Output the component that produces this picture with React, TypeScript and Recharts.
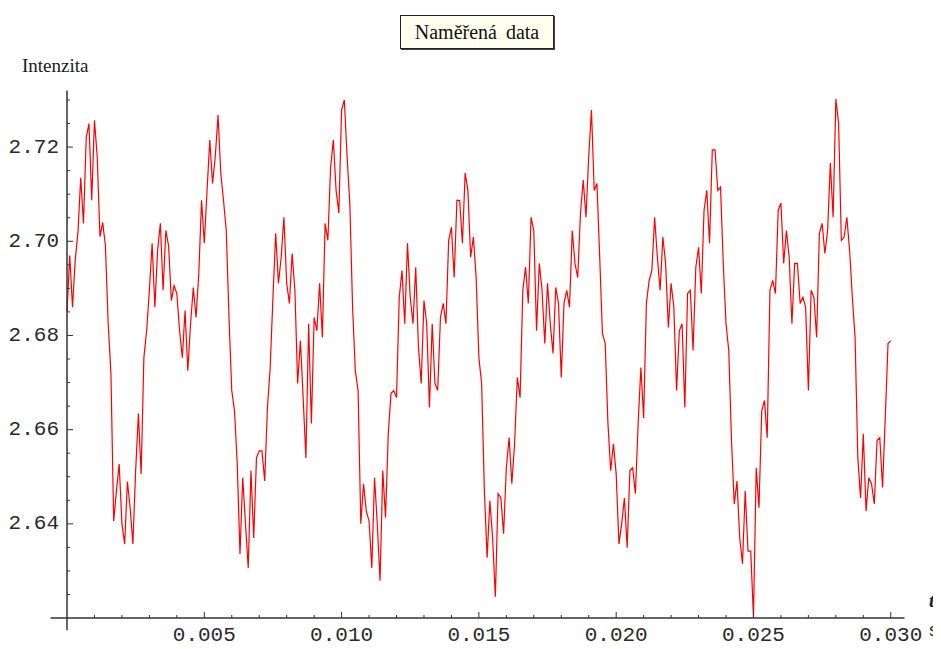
import { LineChart, Line, XAxis, YAxis, ReferenceLine } from 'recharts'

// measured intensity, one reading every 0.1 ms starting at t = 0
const intensity = [
  2.685, 2.697, 2.686, 2.696, 2.702, 2.7135, 2.7038, 2.722, 2.725, 2.7087,
  2.7257, 2.718, 2.701, 2.704, 2.699, 2.6825, 2.672, 2.6406, 2.647, 2.6527,
  2.64, 2.6357, 2.649, 2.6434, 2.6357, 2.6513, 2.6634, 2.6506, 2.6753, 2.681,
  2.6896, 2.6996, 2.686, 2.6981, 2.7038, 2.6896, 2.7023, 2.699, 2.6874, 2.6906,
  2.6889, 2.681, 2.6753, 2.6853, 2.6725, 2.6825, 2.6902, 2.6838, 2.6932, 2.7087,
  2.6996, 2.7108, 2.7215, 2.7123, 2.718, 2.7268, 2.7145, 2.7087, 2.7023, 2.6838,
  2.6683, 2.664, 2.6527, 2.6336, 2.6498, 2.64, 2.6306, 2.6513, 2.637, 2.654,
  2.6555, 2.6555, 2.6491, 2.6647, 2.6732, 2.6881, 2.7017, 2.6911, 2.6966, 2.7051,
  2.6911, 2.6868, 2.6974, 2.6896, 2.6698, 2.6789, 2.6668, 2.654, 2.6825, 2.6613,
  2.6838, 2.681, 2.6911, 2.6796, 2.7038, 2.7002, 2.7157, 2.7215, 2.7108, 2.706,
  2.7279, 2.73, 2.718, 2.7081, 2.686, 2.6725, 2.6683, 2.64, 2.6485, 2.6427,
  2.6406, 2.6306, 2.6498, 2.64, 2.6279, 2.6513, 2.6413, 2.6591, 2.6677, 2.6683,
  2.6668, 2.6881, 2.6938, 2.6825, 2.6996, 2.6881, 2.6825, 2.6945, 2.6774, 2.6698,
  2.6874, 2.6825, 2.6647, 2.6825, 2.6698, 2.6683, 2.6838, 2.6868, 2.6825, 2.7002,
  2.703, 2.6923, 2.7087, 2.7087, 2.6996, 2.7145, 2.7108, 2.6966, 2.7009, 2.6923,
  2.6753, 2.6698, 2.647, 2.6328, 2.6449, 2.637, 2.6245, 2.6464, 2.6455, 2.6379,
  2.6519, 2.6583, 2.6485, 2.657, 2.6711, 2.6668, 2.6896, 2.6945, 2.6868, 2.7051,
  2.7023, 2.681, 2.6953, 2.6896, 2.6783, 2.6911, 2.6825, 2.6762, 2.6902, 2.6868,
  2.6711, 2.6868, 2.6896, 2.686, 2.7023, 2.6953, 2.6923, 2.706, 2.713, 2.7051,
  2.718, 2.7279, 2.7108, 2.7123, 2.6966, 2.6804, 2.6783, 2.6613, 2.6513, 2.657,
  2.6506, 2.6357, 2.64, 2.6455, 2.6349, 2.6513, 2.6519, 2.6464, 2.6613, 2.6732,
  2.6625, 2.6868, 2.6917, 2.6938, 2.7051, 2.6966, 2.6896, 2.7009, 2.6953, 2.6817,
  2.6911, 2.686, 2.6683, 2.681, 2.6825, 2.6647, 2.6889, 2.6896, 2.6768, 2.6945,
  2.6987, 2.6889, 2.7066, 2.7108, 2.6996, 2.7194, 2.7194, 2.7108, 2.7115, 2.6953,
  2.6825, 2.6768, 2.6577, 2.6442, 2.6491, 2.637, 2.6315, 2.647, 2.6342, 2.6342,
  2.6202, 2.6519, 2.6434, 2.664, 2.6662, 2.6583, 2.6896, 2.6917, 2.6889, 2.7066,
  2.7081, 2.6953, 2.7023, 2.6966, 2.6825, 2.6953, 2.6953, 2.6868, 2.6881, 2.686,
  2.6683, 2.6896, 2.6881, 2.6796, 2.7017, 2.7038, 2.6974, 2.7023, 2.7166, 2.7051,
  2.7302, 2.7251, 2.7002, 2.7009, 2.7051, 2.6981, 2.6881, 2.6796, 2.654, 2.6455,
  2.6591, 2.6427, 2.6498, 2.6485, 2.6442, 2.6577, 2.6583, 2.6477, 2.6625, 2.6783,
  2.6789,
]
const sampleStep = 0.0001

const xTicks = [
  0.001, 0.002, 0.003, 0.004, 0.005, 0.006, 0.007, 0.008, 0.009, 0.01,
  0.011, 0.012, 0.013, 0.014, 0.015, 0.016, 0.017, 0.018, 0.019, 0.02,
  0.021, 0.022, 0.023, 0.024, 0.025, 0.026, 0.027, 0.028, 0.029, 0.03,
]
const xLabelled = [0.005, 0.01, 0.015, 0.02, 0.025, 0.03]

const yTicks = [
  2.625, 2.63, 2.635, 2.64, 2.645, 2.65, 2.655, 2.66, 2.665, 2.67, 2.675,
  2.68, 2.685, 2.69, 2.695, 2.7, 2.705, 2.71, 2.715, 2.72, 2.725, 2.73,
]
const yLabelled = [2.64, 2.66, 2.68, 2.7, 2.72]

const data = intensity.map((v, i) => ({ t: +(i * sampleStep).toFixed(4), v }))

const axisColor = '#333'
const tickFont = { fontFamily: '"Liberation Mono", monospace', fontSize: 21, fill: '#2a2a2a' }

const isIn = (list: number[], v: number) => list.some((m) => Math.abs(m - v) < 1e-9)

function XTick(props: any) {
  const { x, y, payload } = props
  const major = isIn(xLabelled, payload.value)
  return (
    <g>
      <line x1={x} x2={x} y1={y} y2={y - (major ? 6 : 3)} stroke={axisColor} strokeWidth={1} />
      {major && (
        <text x={x} y={y + 17} textAnchor="middle" dominantBaseline="central" {...tickFont}>
          {payload.value.toFixed(3)}
        </text>
      )}
    </g>
  )
}

function YTick(props: any) {
  const { x, y, payload } = props
  const major = isIn(yLabelled, payload.value)
  return (
    <g>
      <line x1={x} x2={x + (major ? 6 : 3)} y1={y} y2={y} stroke={axisColor} strokeWidth={1} />
      {major && (
        <text x={x - 8} y={y} textAnchor="end" dominantBaseline="central" {...tickFont}>
          {payload.value.toFixed(2)}
        </text>
      )}
    </g>
  )
}

export default function App() {
  // chart is a bit taller than the viewport room so the tick labels are not clipped;
  // the negative margin keeps the page from scrolling
  return (
    <div style={{ position: 'relative', width: 925, height: 641, marginBottom: -8 }}>
      <LineChart
        width={925}
        height={641}
        data={data}
        margin={{ top: 82.6, right: 28.5, bottom: 0, left: 0 }}
      >
        <XAxis
          dataKey="t"
          type="number"
          domain={[0, 0.0305]}
          ticks={xTicks}
          interval={0}
          height={31}
          tickSize={0}
          tickMargin={0}
          tickLine={false}
          tick={<XTick />}
          axisLine={{ stroke: axisColor, strokeWidth: 1.5 }}
        />
        <YAxis
          type="number"
          domain={[2.62, 2.732]}
          ticks={yTicks}
          interval={0}
          width={59}
          tickSize={0}
          tickMargin={0}
          tickLine={false}
          tick={<YTick />}
          axisLine={{ stroke: axisColor, strokeWidth: 1.5 }}
          allowDataOverflow
        />
        <ReferenceLine
          segment={[{ x: -0.0006, y: 2.62 }, { x: 0, y: 2.62 }]}
          stroke={axisColor}
          strokeWidth={1.5}
          ifOverflow="visible"
        />
        <ReferenceLine
          segment={[{ x: 0, y: 2.62 }, { x: 0, y: 2.6174 }]}
          stroke={axisColor}
          strokeWidth={1.5}
          ifOverflow="visible"
        />
        <Line
          type="linear"
          dataKey="v"
          stroke="#ff0000"
          strokeWidth={1.2}
          dot={false}
          isAnimationActive={false}
        />
      </LineChart>

      <div
        style={{
          position: 'absolute',
          left: 392,
          top: 7,
          width: 152,
          height: 32,
          border: '1.5px solid #222',
          boxShadow: '1px 1px 0 #444',
          background: '#ffffef',
          fontFamily: '"Liberation Serif", serif',
          fontSize: 20,
          lineHeight: '32px',
          textAlign: 'center',
          wordSpacing: 4,
          color: '#111',
        }}
      >
        Naměřená data
      </div>
      <div
        style={{
          position: 'absolute',
          left: 14,
          top: 48,
          fontFamily: '"Liberation Serif", serif',
          fontSize: 19,
          lineHeight: 1,
          color: '#1a1a1a',
        }}
      >
        Intenzita
      </div>
      <div
        style={{
          position: 'absolute',
          left: 921,
          top: 583,
          fontFamily: '"Liberation Serif", serif',
          fontStyle: 'italic',
          fontWeight: 'bold',
          fontSize: 19,
          lineHeight: 1,
          color: '#1a1a1a',
        }}
      >
        t
      </div>
      <div
        style={{
          position: 'absolute',
          left: 920,
          top: 614,
          fontFamily: '"Liberation Mono", monospace',
          fontSize: 19,
          lineHeight: 1,
          color: '#2a2a2a',
        }}
      >
        s
      </div>
    </div>
  )
}
